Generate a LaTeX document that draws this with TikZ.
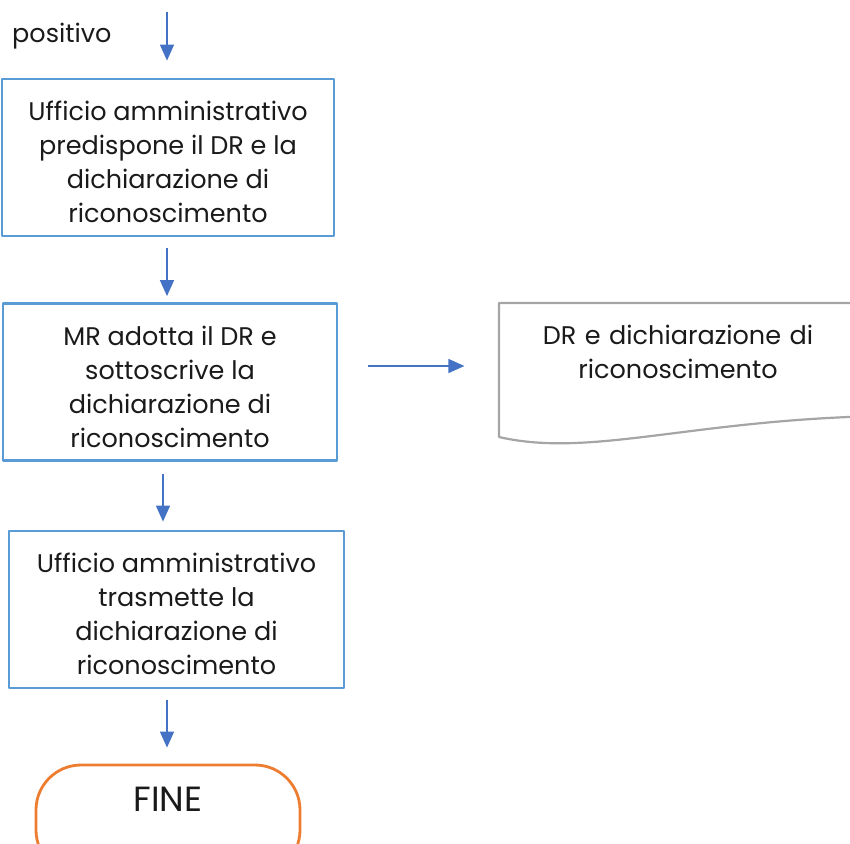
\documentclass[tikz,border=0pt]{standalone}
\usepackage{fontspec}
\setmainfont{Poppins}
\usetikzlibrary{arrows.meta}
\definecolor{boxblue}{HTML}{5B9BD5}
\definecolor{arrblue}{HTML}{4472C4}
\definecolor{docgray}{HTML}{A5A5A5}
\definecolor{endorange}{HTML}{ED7D31}
\definecolor{testonero}{HTML}{1A1A1A}
\tikzset{
  passo/.style={draw=boxblue, line width=2.8pt, minimum width=332pt, minimum height=157pt, inner sep=0pt},
  flusso/.style={draw=arrblue, line width=1.4pt, -{Triangle[width=14pt,length=16pt]}},
  testo/.style={align=center, text=testonero, font=\fontsize{25.5}{34}\selectfont, inner sep=0pt}
}
\begin{document}
\begin{tikzpicture}[x=1pt, y=-1pt, line join=round]
	\useasboundingbox (0,0) rectangle (850,843);
	\clip (0,0) rectangle (850,843);
	% ingresso
	\node[testo, anchor=west] (pos) at (12,36) {positivo};
	\coordinate (in) at (167,12);
	% passi
	\node[passo, label={[testo, yshift=-4pt]center:{Ufficio amministrativo\\predispone il DR e la\\dichiarazione di\\riconoscimento}}] (p1) at (168,157.5) {};
	\node[passo, minimum width=334pt, label={[testo, yshift=-5pt]center:{MR adotta il DR e\\sottoscrive la\\dichiarazione di\\riconoscimento}}] (p2) at (170,382) {};
	\node[passo, minimum width=335pt, label={[testo, yshift=-4pt]center:{Ufficio amministrativo\\trasmette la\\dichiarazione di\\riconoscimento}}] (p3) at (176.5,609.5) {};
	\node[draw=endorange, line width=2.8pt, rounded corners=45pt, minimum width=264pt, minimum height=110pt,
		label={[text=testonero, font=\fontsize{35}{36}\selectfont, yshift=21pt]center:FINE}] (fine) at (168,820) {};
	% documento
	\node[testo, text width=340pt] (doc) at (678,352) {DR e dichiarazione di\\riconoscimento};
	\draw[docgray, line width=2.2pt] (880,303) -- (499,303) -- (499,437)
		.. controls (590,458) and (690,420) .. (880,416);
	% frecce
	\draw[flusso] (in) -- ([yshift=17pt]in |- p1.north);
	\draw[flusso] ([xshift=-1pt,yshift=-11pt]p1.south) -- ([xshift=-1pt,yshift=6pt]p1.south |- p2.north);
	\draw[flusso] ([xshift=-7pt,yshift=-12pt]p2.south) -- ([xshift=-7pt,yshift=8pt]p2.south |- p3.north);
	\draw[flusso] ([xshift=-9.5pt,yshift=-11pt]p3.south) -- ([xshift=-9.5pt,yshift=16pt]p3.south |- fine.north);
	\draw[flusso] ([xshift=30pt,yshift=16pt]p2.east) -- ++(96,0);
\end{tikzpicture}
\end{document}
